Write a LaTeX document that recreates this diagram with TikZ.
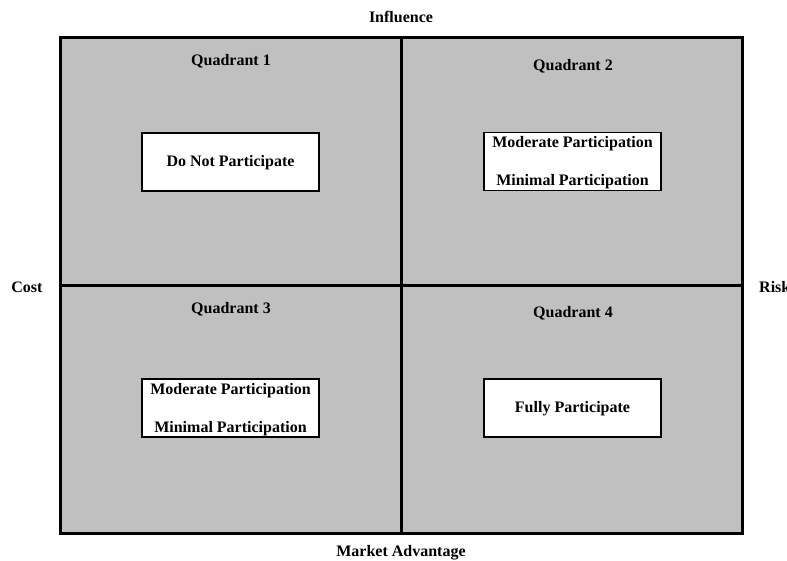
\documentclass[tikz,border=0pt]{standalone}
\usepackage{fontspec}
\setmainfont{Liberation Serif}
\definecolor{quadgray}{RGB}{192,192,192}
\begin{document}
\begin{tikzpicture}[x=1pt,y=-1pt,
  lbl/.style={font=\fontsize{16}{18}\selectfont\bfseries, inner sep=0pt},
  optbox/.style={draw=black, line width=1.2pt, fill=white, minimum width=177pt, minimum height=58pt, inner sep=0pt},
  frame/.style={line width=3pt, draw=black}]
\useasboundingbox (0,0) rectangle (787,561);
\coordinate (tl) at (60,38);
\coordinate (br) at (742,533);
\coordinate (mt) at (401,38);
\coordinate (mb) at (401,533);
\coordinate (ml) at (60,286);
\coordinate (mr) at (742,286);
\fill[quadgray] (tl) rectangle (br);
\draw[frame] (mt) -- (mb);
\draw[frame] (ml) -- (mr);
\draw[frame] (tl) rectangle (br);
\node[lbl] (q1) at (231,61) {Quadrant 1};
\node[lbl] (q2) at (573,66) {Quadrant 2};
\node[lbl] (q3) at (231,309) {Quadrant 3};
\node[lbl] (q4) at (573,313) {Quadrant 4};
\node[optbox] (b1) at (230.5,162) {};
\node[lbl] (t1) at (230.5,163) {Do Not Participate};
\node[optbox] (b2) at (572.5,161.5) {};
\node[lbl] (t2a) at (572.5,144) {Moderate Participation};
\node[lbl] (t2b) at (572.5,182) {Minimal Participation};
\node[optbox] (b3) at (230.5,408) {};
\node[lbl] (t3a) at (230.5,391) {Moderate Participation};
\node[lbl] (t3b) at (230.5,429) {Minimal Participation};
\node[optbox] (b4) at (572.5,408) {};
\node[lbl] (t4) at (572.5,409) {Fully Participate};
\node[lbl] (infl) at (401,17) {Influence};
\node[lbl] (mkt) at (401,553) {Market Advantage};
\node[lbl] (cost) at (27,287) {Cost};
\node[lbl, anchor=west] (risk) at (759,287) {Risk};
\end{tikzpicture}
\end{document}
